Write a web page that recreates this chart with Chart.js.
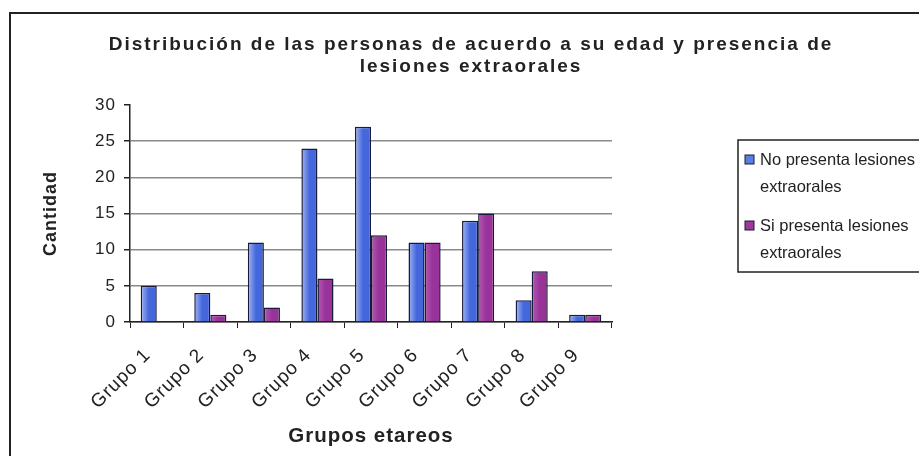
<!DOCTYPE html>
<html>
<head>
<meta charset="utf-8">
<script src="https://cdn.jsdelivr.net/npm/chart.js@4.4.1/dist/chart.umd.min.js"></script>
<style>
  html, body { margin: 0; padding: 0; background: #fff; }
  #wrap { width: 919px; height: 456px; position: relative; }
</style>
</head>
<body>
<div id="wrap"><canvas id="chart" width="919" height="456"></canvas></div>
<script>
const grupos = ['Grupo 1', 'Grupo 2', 'Grupo 3', 'Grupo 4', 'Grupo 5', 'Grupo 6', 'Grupo 7', 'Grupo 8', 'Grupo 9'];
const noPresenta = [5, 4, 11, 24, 27, 11, 14, 3, 1];
const siPresenta = [0, 1, 2, 6, 12, 11, 15, 7, 1];
const tituloLineas = ['Distribución de las personas de acuerdo a su edad y presencia de', 'lesiones extraorales'];
const leyendaNo = ['No presenta lesiones', 'extraorales'];
const leyendaSi = ['Si presenta lesiones', 'extraorales'];

const fuente = '"Liberation Sans", Arial, sans-serif';

// horizontal gradient across each bar, like the old office charts
function barFill(light, dark, side) {
  return function (context) {
    const chart = context.chart;
    const xs = chart.scales.x;
    if (!chart.chartArea || !xs) return dark;
    const center = xs.getPixelForValue(context.dataIndex);
    const w = (xs.width / grupos.length) * 0.6 / 2;
    const x0 = side === 0 ? center - w : center;
    const g = chart.ctx.createLinearGradient(x0, 0, x0 + w, 0);
    g.addColorStop(0, light);
    g.addColorStop(0.5, dark);
    g.addColorStop(1, dark);
    return g;
  };
}

const decor = {
  id: 'decor',
  beforeDraw(chart) {
    const ctx = chart.ctx;
    ctx.save();
    ctx.fillStyle = '#fff';
    ctx.fillRect(0, 0, chart.width, chart.height);
    ctx.strokeStyle = '#222';
    ctx.lineWidth = 2;
    ctx.strokeRect(10, 13, 940, 460);
    ctx.restore();
    // a little tracking on all the chart text
    ctx.letterSpacing = '1px';
  },
  afterDraw(chart) {
    const ctx = chart.ctx;
    ctx.save();
    // title
    ctx.fillStyle = '#222';
    ctx.font = 'bold 19px ' + fuente;
    ctx.textAlign = 'center';
    ctx.textBaseline = 'middle';
    ctx.letterSpacing = '2px';
    ctx.fillText(tituloLineas[0], 471, 45);
    ctx.fillText(tituloLineas[1], 471, 67);
    ctx.letterSpacing = '0px';
    // legend
    ctx.strokeStyle = '#222';
    ctx.lineWidth = 1.5;
    ctx.strokeRect(738, 140, 200, 132);
    ctx.font = '16.5px ' + fuente;
    ctx.textAlign = 'left';
    const items = [[leyendaNo, '#5b7fe0', 160], [leyendaSi, '#9b3a9b', 226]];
    items.forEach(([lines, color, y]) => {
      ctx.fillStyle = color;
      ctx.fillRect(745, y - 5, 9, 9);
      ctx.strokeStyle = '#1a1a3a';
      ctx.lineWidth = 1;
      ctx.strokeRect(745, y - 5, 9, 9);
      ctx.fillStyle = '#222';
      ctx.fillText(lines[0], 760, y);
      ctx.fillText(lines[1], 760, y + 27);
    });
    ctx.restore();
  }
};

new Chart(document.getElementById('chart'), {
  type: 'bar',
  data: {
    labels: grupos,
    datasets: [{
      label: leyendaNo.join(' '),
      data: noPresenta,
      backgroundColor: barFill('#a3b6f2', '#4468dc', 0),
      borderColor: '#1a1a3a',
      borderWidth: 1.5,
      categoryPercentage: 0.6,
      barPercentage: 1
    }, {
      label: leyendaSi.join(' '),
      data: siPresenta,
      backgroundColor: barFill('#b25ab2', '#993399', 1),
      borderColor: '#1a1a3a',
      borderWidth: 1.5,
      categoryPercentage: 0.6,
      barPercentage: 1
    }]
  },
  options: {
    responsive: false,
    animation: false,
    layout: { padding: { top: 105, right: 307, left: 0, bottom: 4 } },
    plugins: {
      legend: { display: false },
      title: { display: false },
      tooltip: { enabled: false }
    },
    scales: {
      x: {
        afterFit: s => { s.height = 130; },
        grid: { offset: true, drawOnChartArea: false, drawTicks: true, tickLength: 6, color: '#222' },
        border: { color: '#222', width: 1.5 },
        ticks: {
          color: '#222',
          font: { family: fuente, size: 19 },
          maxRotation: 45, minRotation: 45, padding: 16, labelOffset: -9
        },
        title: {
          display: true, text: 'Grupos etareos', color: '#222',
          font: { family: fuente, size: 20.5, weight: 'bold' },
          padding: { top: 0, bottom: 3 }
        }
      },
      y: {
        min: 0, max: 30,
        afterFit: s => { s.width = 130; },
        grid: {
          color: c => (c.tick.value === 30 ? 'rgba(0,0,0,0)' : '#8a8a8a'),
          lineWidth: 1.5, tickLength: 6, tickColor: '#222'
        },
        border: { color: '#222', width: 1.5 },
        ticks: {
          stepSize: 5, color: '#222', padding: 8,
          font: { family: fuente, size: 17 }
        },
        title: {
          display: true, text: 'Cantidad', color: '#222',
          font: { family: fuente, size: 18, weight: 'bold' },
          padding: { top: 40, bottom: 0 }
        }
      }
    }
  },
  plugins: [decor]
});
</script>
</body>
</html>
